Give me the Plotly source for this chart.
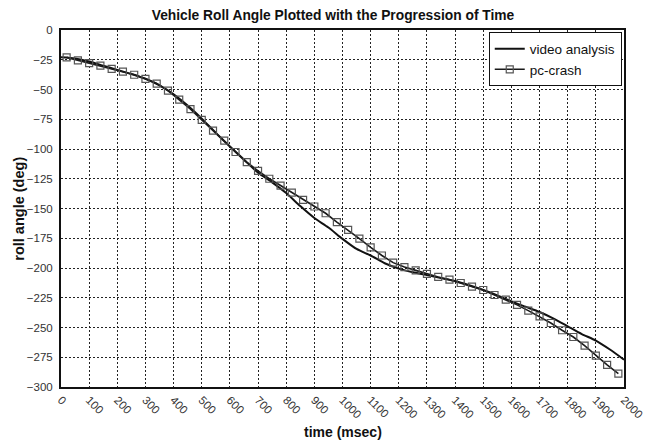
import plotly.graph_objects as go

# video analysis (continuous trace), every 50 ms
video_time = [0, 50, 100, 150, 200, 250, 300, 350, 400, 450, 500, 550, 600, 650,
              700, 750, 800, 850, 900, 950, 1000, 1050, 1100, 1150, 1200, 1250,
              1300, 1350, 1400, 1450, 1500, 1550, 1600, 1650, 1700, 1750, 1800,
              1850, 1900, 1950, 2000]
video_roll = [-23, -24, -26.5, -30, -33.5, -37, -41, -46.5, -54, -63.5, -74.5,
              -86.5, -98, -109, -120, -128, -137, -148, -158, -166, -175.5,
              -184, -189.5, -196, -200.5, -203.5, -206, -208.5, -211, -214.5,
              -218.5, -223, -228, -232.5, -237, -242.5, -249, -255.5, -261,
              -268.5, -277]

# pc-crash simulation, one marker every 40 ms
pc_time = [20, 60, 100, 140, 180, 220, 260, 300, 340, 380, 420, 460, 500, 540,
           580, 620, 660, 700, 740, 780, 820, 860, 900, 940, 980, 1020, 1060,
           1100, 1140, 1180, 1220, 1260, 1300, 1340, 1380, 1420, 1460, 1500,
           1540, 1580, 1620, 1660, 1700, 1740, 1780, 1820, 1860, 1900, 1940,
           1980]
pc_roll = [-23, -25.5, -27.8, -30, -32.6, -35, -37.6, -41, -45, -51, -58.5,
           -66.5, -75.5, -84.5, -93, -102.5, -111, -118.3, -125, -130.7,
           -136.6, -142.7, -148.3, -154, -161.4, -168, -175.3, -182.6, -189.5,
           -195.5, -199.2, -202, -205, -207.5, -209.8, -212.6, -215.7, -218.5,
           -222.7, -226.6, -231, -235.8, -240.7, -246.2, -252.3, -258, -265.3,
           -273.6, -281.4, -288.7]

FONT = "Liberation Sans, Arial, sans-serif"
GRID_DASH = "1.5px,2.5px"

fig = go.Figure()
fig.add_trace(
    go.Scatter(
        x=video_time,
        y=video_roll,
        mode="lines",
        name="video analysis",
        line=dict(color="#111111", width=2, shape="spline", smoothing=0.6),
    )
)
fig.add_trace(
    go.Scatter(
        x=pc_time,
        y=pc_roll,
        mode="lines+markers",
        name="pc-crash",
        line=dict(color="#1a1a1a", width=1.6),
        marker=dict(
            symbol="square-open",
            size=7,
            color="#555555",
            line=dict(color="#555555", width=1.2),
        ),
    )
)

# the page body has an 8px margin, so the figure is 8px smaller than the window
fig.update_layout(
    width=650,
    height=434,
    margin=dict(l=53, r=34, t=22, b=55, autoexpand=False),
    paper_bgcolor="white",
    plot_bgcolor="white",
    font=dict(family=FONT, size=11.5, color="#222222"),
    title=dict(
        text="<b>Vehicle Roll Angle Plotted with the Progression of Time</b>",
        x=0.5,
        xanchor="center",
        y=0.984,
        yanchor="middle",
        font=dict(family=FONT, size=13.8, color="#111111"),
    ),
    showlegend=True,
    legend=dict(
        x=0.996,
        y=0.993,
        xanchor="right",
        yanchor="top",
        bgcolor="white",
        bordercolor="#111111",
        borderwidth=1,
        font=dict(family=FONT, size=13.5, color="#111111"),
        tracegroupgap=0,
        itemwidth=30,
    ),
)

# axis titles placed by hand so the rotated tick labels don't push them off the page
fig.add_annotation(
    text="<b>time (msec)</b>", xref="paper", yref="paper", x=0.5, y=-0.126,
    xanchor="center", yanchor="middle", showarrow=False,
    font=dict(family=FONT, size=14, color="#111111"),
)
fig.add_annotation(
    text="<b>roll angle (deg)</b>", xref="paper", yref="paper", x=-0.076, y=0.5,
    xanchor="center", yanchor="middle", textangle=-90, showarrow=False,
    font=dict(family=FONT, size=14.5, color="#111111"),
)

fig.update_xaxes(
    range=[0, 2000],
    dtick=100,
    tick0=0,
    tickangle=45,
    automargin=False,
    showgrid=True,
    gridcolor="#222222",
    griddash=GRID_DASH,
    gridwidth=1,
    showline=True,
    linecolor="#111111",
    linewidth=2,
    mirror=True,
    zeroline=False,
    tickfont=dict(family=FONT, size=11.5, color="#333333"),
)
fig.update_yaxes(
    range=[-300, 0],
    dtick=25,
    tick0=0,
    automargin=False,
    showgrid=True,
    gridcolor="#222222",
    griddash=GRID_DASH,
    gridwidth=1,
    showline=True,
    linecolor="#111111",
    linewidth=2,
    mirror=True,
    zeroline=False,
    ticks="",
    ticklabelstandoff=4,
    tickfont=dict(family=FONT, size=11.5, color="#333333"),
)

fig.write_html("out.html")
